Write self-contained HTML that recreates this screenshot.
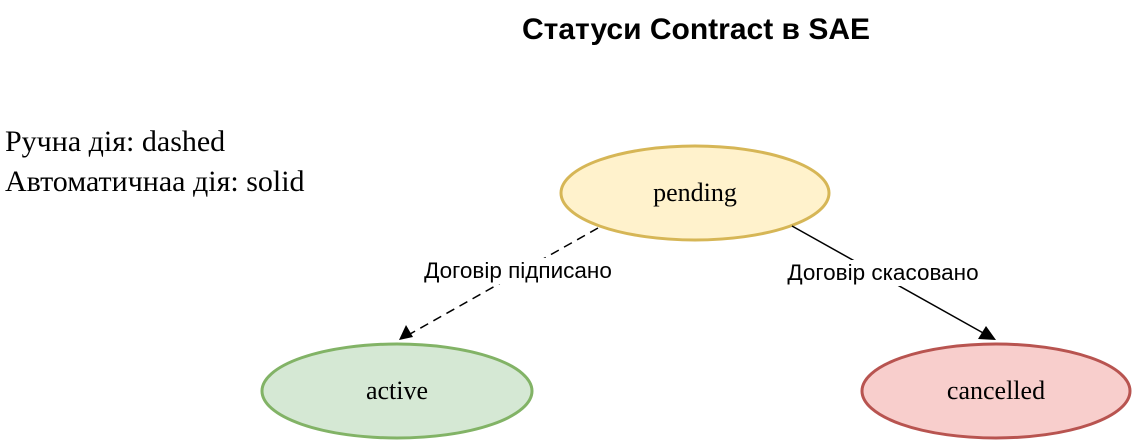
<!DOCTYPE html>
<html><head><meta charset="utf-8"><style>
html,body{margin:0;padding:0;background:#fff;width:1132px;height:442px;overflow:hidden}
</style></head><body>
<svg width="1132" height="442" xmlns="http://www.w3.org/2000/svg">
<text x="696" y="39" text-anchor="middle" font-family="Liberation Sans, sans-serif" font-weight="bold" font-size="30">Статуси Contract в SAE</text>
<text x="5" y="151" font-family="Liberation Serif, serif" font-size="30">Ручна дія: dashed</text>
<text x="5" y="191" font-family="Liberation Serif, serif" font-size="30">Автоматичнаа дія: solid</text>
<ellipse cx="695" cy="193" rx="134" ry="47" fill="#fff2cc" stroke="#d6b656" stroke-width="3"/>
<text x="695" y="201" text-anchor="middle" font-family="Liberation Serif, serif" font-size="26">pending</text>
<ellipse cx="397" cy="391" rx="135" ry="47" fill="#d5e8d4" stroke="#82b366" stroke-width="3"/>
<text x="397" y="399" text-anchor="middle" font-family="Liberation Serif, serif" font-size="26">active</text>
<ellipse cx="996" cy="391" rx="134" ry="47" fill="#f8cecc" stroke="#b85450" stroke-width="3"/>
<text x="996" y="399" text-anchor="middle" font-family="Liberation Serif, serif" font-size="26">cancelled</text>
<line x1="598" y1="228" x2="410" y2="334" stroke="#000" stroke-width="1.5" stroke-dasharray="9,6"/>
<polygon points="399,340 406,325 413,337" fill="#000"/>
<line x1="792" y1="226" x2="985" y2="334" stroke="#000" stroke-width="1.5"/>
<polygon points="996,340 978,339 986,326" fill="#000"/>
<rect x="422" y="258" width="192" height="26" fill="#fff"/>
<text x="518" y="278" text-anchor="middle" font-family="Liberation Sans, sans-serif" font-size="22.5">Договір підписано</text>
<rect x="784" y="260" width="198" height="26" fill="#fff"/>
<text x="883" y="280" text-anchor="middle" font-family="Liberation Sans, sans-serif" font-size="22.5">Договір скасовано</text>
</svg>
</body></html>
